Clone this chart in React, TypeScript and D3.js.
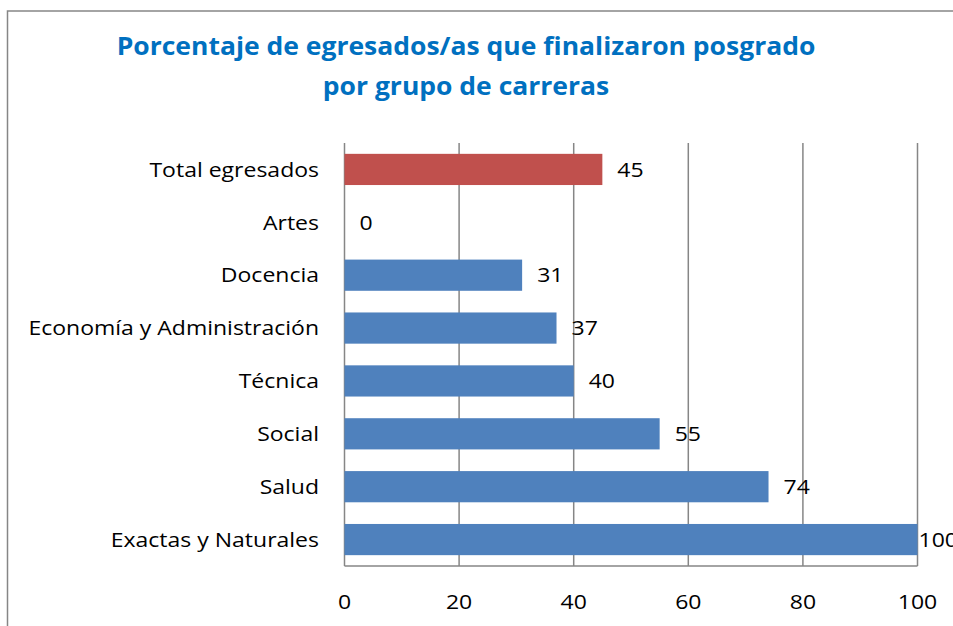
import React, { useRef, useEffect } from "react";
import * as d3 from "d3";

const W = 953;
const H = 626;

const categories = [
  "Total egresados",
  "Artes",
  "Docencia",
  "Economía y Administración",
  "Técnica",
  "Social",
  "Salud",
  "Exactas y Naturales",
];
const values = [45, 0, 31, 37, 40, 55, 74, 100];
const xTicks = [0, 20, 40, 60, 80, 100];
const titleLines = [
  "Porcentaje de egresados/as que finalizaron posgrado",
  "por grupo de carreras",
];

const font = "'Open Sans', Lato, sans-serif";
const grey = "#868686";
// the source text is drawn a little wider than it is tall
const stretch = 1.15;
const titleStretch = 1.06;

export default function App() {
  const ref = useRef<SVGSVGElement | null>(null);

  useEffect(() => {
    const svg = d3.select(ref.current);
    svg.selectAll("*").remove();

    const left = 344.5;
    const right = 917.5;
    const top = 143;
    const bottom = 566;

    const x = d3.scaleLinear().domain([0, 100]).range([left, right]);
    const y = d3
      .scaleBand<string>()
      .domain(categories)
      .range([top, bottom])
      .paddingInner(0.41)
      .paddingOuter(0.205);

    const at = (px: number, py: number, s = stretch) =>
      `translate(${px},${py}) scale(${s},1)`;

    // outer frame
    svg
      .append("rect")
      .attr("x", 7.5)
      .attr("y", 11)
      .attr("width", 1000)
      .attr("height", 700)
      .attr("fill", "#fff")
      .attr("stroke", grey)
      .attr("stroke-width", 1.5);

    // title
    svg
      .append("g")
      .selectAll("text")
      .data(titleLines)
      .enter()
      .append("text")
      .attr("transform", (_, i) => at(466, 55 + i * 40, titleStretch))
      .attr("text-anchor", "middle")
      .attr("font-family", font)
      .attr("font-weight", "bold")
      .attr("font-size", 25)
      .attr("fill", "#0070C0")
      .text((d) => d);

    // gridlines
    svg
      .append("g")
      .selectAll("line")
      .data(xTicks)
      .enter()
      .append("line")
      .attr("x1", (d) => x(d))
      .attr("x2", (d) => x(d))
      .attr("y1", top)
      .attr("y2", bottom)
      .attr("stroke", grey)
      .attr("stroke-width", 1.5);

    svg
      .append("line")
      .attr("x1", left)
      .attr("x2", right)
      .attr("y1", bottom)
      .attr("y2", bottom)
      .attr("stroke", grey)
      .attr("stroke-width", 1.5);

    // bars
    svg
      .append("g")
      .selectAll("rect")
      .data(categories)
      .enter()
      .append("rect")
      .attr("x", x(0))
      .attr("y", (d) => y(d)!)
      .attr("width", (_, i) => x(values[i]) - x(0))
      .attr("height", y.bandwidth())
      .attr("fill", (_, i) => (i === 0 ? "#C0504D" : "#4F81BD"));

    // value labels
    svg
      .append("g")
      .selectAll("text")
      .data(categories)
      .enter()
      .append("text")
      .attr("transform", (d, i) =>
        at(Math.min(x(values[i]) + 15, right + 1), y(d)! + y.bandwidth() / 2)
      )
      .attr("dy", "0.36em")
      .attr("font-family", font)
      .attr("font-size", 20)
      .attr("fill", "#000")
      .text((_, i) => values[i]);

    // category labels
    svg
      .append("g")
      .selectAll("text")
      .data(categories)
      .enter()
      .append("text")
      .attr("transform", (d) => at(319, y(d)! + y.bandwidth() / 2))
      .attr("dy", "0.36em")
      .attr("text-anchor", "end")
      .attr("font-family", font)
      .attr("font-size", 20)
      .attr("fill", "#000")
      .text((d) => d);

    // x tick labels
    svg
      .append("g")
      .selectAll("text")
      .data(xTicks)
      .enter()
      .append("text")
      .attr("transform", (d) => at(x(d), 602))
      .attr("dy", "0.36em")
      .attr("text-anchor", "middle")
      .attr("font-family", font)
      .attr("font-size", 20)
      .attr("fill", "#000")
      .text((d) => d);
  }, []);

  return (
    <svg
      ref={ref}
      width={W}
      height={H}
      style={{ position: "absolute", left: 0, top: 0 }}
    />
  );
}
